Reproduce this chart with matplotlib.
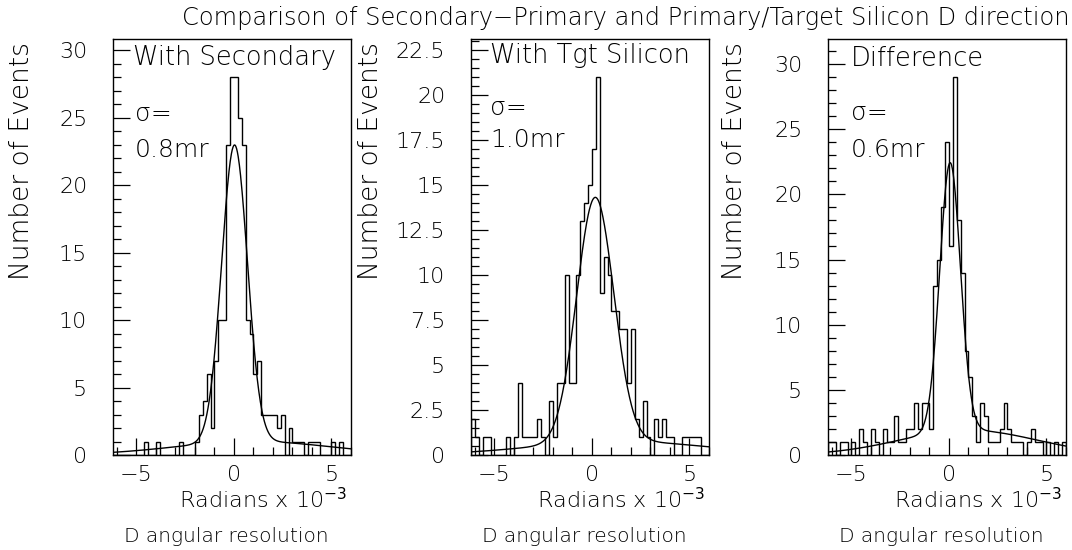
import numpy as np
import matplotlib
matplotlib.use("Agg")
import matplotlib.pyplot as plt
from matplotlib.ticker import MultipleLocator, FuncFormatter

# ---------------- data ----------------
x_min, x_max, bin_width = -6.2, 6.0, 0.2

counts_secondary = [0, 0, 0, 0, 0, 0, 0, 0, 1, 0,
                    0, 1, 0, 0, 0, 0, 0, 1, 0, 0,
                    0, 1, 3, 4, 6, 2, 7, 10, 10, 23,
                    28, 28, 25, 23, 10, 9, 6, 7, 3, 3,
                    3, 3, 2, 3, 0, 2, 1, 1, 1, 0,
                    1, 1, 1, 0, 0, 0, 1, 0, 1, 0,
                    0]
counts_tgt_silicon = [2, 1, 0, 1, 1, 0, 0, 0, 0, 1,
                      0, 1, 4, 1, 1, 1, 1, 2, 1, 0,
                      3, 1, 4, 4, 10, 4, 4, 10, 13, 14,
                      15, 17, 21, 9, 11, 10, 8, 8, 7, 7,
                      4, 7, 2, 1, 3, 1, 0, 2, 1, 2,
                      1, 1, 0, 0, 1, 1, 1, 1, 1, 0,
                      0]
counts_difference = [1, 1, 0, 1, 1, 0, 1, 0, 2, 1,
                     0, 2, 1, 0, 2, 1, 1, 3, 1, 1,
                     2, 2, 4, 2, 4, 4, 2, 13, 15, 19,
                     24, 16, 29, 18, 14, 8, 6, 3, 1, 4,
                     3, 1, 1, 1, 2, 4, 2, 1, 1, 1,
                     0, 1, 2, 1, 1, 0, 1, 0, 1, 0,
                     1]

# fitted curves: core gaussian (amp, mean, sigma) + broad component (amp, mean, sigma)
fit_secondary = [22.0, 0.03, 0.66, 1.0, 1.0, 4.0]
fit_tgt_silicon = [13.6, 0.17, 0.95, 0.75, 1.5, 4.5]
fit_difference = [20.6, 0.06, 0.53, 1.9, 1.0, 3.5]

panel_titles = ["With Secondary", "With Tgt Silicon", "Difference"]
sigma_labels = ["0.8mr", "1.0mr", "0.6mr"]
y_max = [30.8, 23.1, 31.9]
y_major = [5, 2.5, 5]
y_minor = [1, 0.5, 1]
x_major_ticks = [-5, 0, 5]

title = "Comparison of Secondary\u2212Primary and Primary/Target Silicon D direction"
x_label = "Radians x 10$^{-3}$"
x_title = "D angular resolution"
y_label = "Number of Events"

# ---------------- layout ----------------
W, H = 1072, 550
fig = plt.figure(figsize=(W / 100, H / 100), dpi=100)
FAM = ["DejaVu Sans"]

def fx(px):
    return px / W

def fy(py):
    return 1 - py / H

ax_left = [113, 471, 828]
ax_w = 238
ax_top, ax_bot = 39.3, 455

txt_title_pos = [(133, 57), (490, 55), (851, 58)]
txt_sigma_pos = [(135, 114), (490, 108), (851, 113)]
txt_val_pos = [(135, 150), (490, 140), (851, 150)]
ylabel_x = [22, 370, 735]

edges = np.linspace(x_min, x_max, len(counts_secondary) + 1)
xs = np.linspace(x_min, x_max, 600)

all_counts = [counts_secondary, counts_tgt_silicon, counts_difference]
all_fits = [fit_secondary, fit_tgt_silicon, fit_difference]

for k in range(3):
    ax = fig.add_axes([fx(ax_left[k]), fy(ax_bot), ax_w / W, (ax_bot - ax_top) / H])
    ax.stairs(all_counts[k], edges, color="black", lw=1.0, baseline=0)
    a, m, s, b, m2, s2 = all_fits[k]
    ys = a * np.exp(-0.5 * ((xs - m) / s) ** 2) + b * np.exp(-0.5 * ((xs - m2) / s2) ** 2)
    ax.plot(xs, ys, color="black", lw=1.0)
    ax.set_xlim(x_min, x_max)
    ax.set_ylim(0, y_max[k])
    ax.set_xticks(x_major_ticks)
    ax.xaxis.set_minor_locator(MultipleLocator(1))
    ax.yaxis.set_major_locator(MultipleLocator(y_major[k]))
    ax.yaxis.set_minor_locator(MultipleLocator(y_minor[k]))
    ax.yaxis.set_major_formatter(FuncFormatter(lambda v, p: "%g" % v))
    ax.tick_params(which="both", direction="in", top=False, right=False, width=0.9)
    ax.tick_params(which="major", length=12)
    ax.tick_params(which="minor", length=5.5)
    ax.tick_params(axis="y", which="major", pad=18.5, labelsize=16)
    ax.tick_params(axis="x", which="major", pad=7, labelsize=16)
    for lab in ax.get_xticklabels() + ax.get_yticklabels():
        lab.set_family(FAM)
        lab.set_fontweight("light")
    for sp in ax.spines.values():
        sp.set_linewidth(1.0)

    tx, ty = txt_title_pos[k]
    fig.text(fx(tx), fy(ty), panel_titles[k], ha="left", va="center",
             fontsize=18.5, family=FAM, fontweight="light")
    tx, ty = txt_sigma_pos[k]
    fig.text(fx(tx), fy(ty), "\u03c3=", ha="left", va="center",
             fontsize=18, family=FAM, fontweight="light")
    tx, ty = txt_val_pos[k]
    fig.text(fx(tx), fy(ty), sigma_labels[k], ha="left", va="center",
             fontsize=18, family=FAM, fontweight="light")

    cx = ax_left[k] + ax_w / 2
    fig.text(fx(ax_left[k] + ax_w - 4), fy(500), x_label, ha="right", va="center",
             fontsize=16, family=FAM, fontweight="light")
    fig.text(fx(cx - 6), fy(537), x_title, ha="center", va="center",
             fontsize=14.5, family=FAM, fontweight="light")
    fig.text(fx(ylabel_x[k]), fy(42), y_label, ha="center", va="top", rotation=90,
             fontsize=19, family=FAM, fontweight="light")

fig.text(fx(626), fy(18), title, ha="center", va="center",
         fontsize=17.4, family=FAM, fontweight="light")

fig.savefig("out.png", dpi=100)
